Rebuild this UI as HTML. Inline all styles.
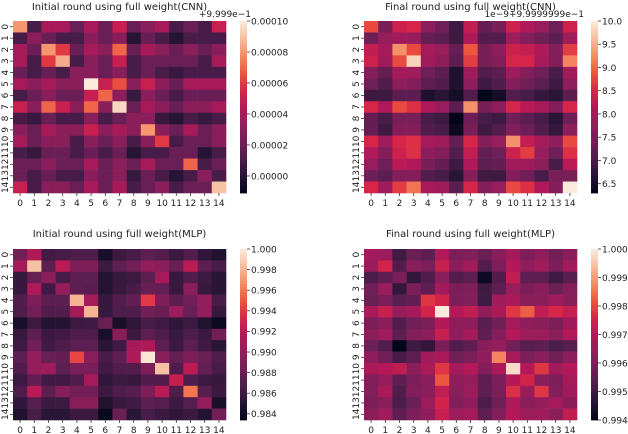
<!DOCTYPE html>
<html><head><meta charset="utf-8">
<style>
html,body{margin:0;padding:0;background:#fff;}
svg{display:block;font-family:"DejaVu Sans","Liberation Sans",sans-serif;}
</style></head>
<body>
<svg id="chart" width="628" height="434" viewBox="0 0 628 434" xmlns="http://www.w3.org/2000/svg"></svg>
<script>
const labels = ["0","1","2","3","4","5","6","7","8","9","10","11","12","13","14"];
const cnnInit = [
[8,1,4,4,2,4,2,5,2,3,4,1,2,1,5],
[1,3,2,1,1,3,2,3,0,2,1,0,1,1,1],
[4,2,8,6,2,4,3,7,2,4,3,2,3,2,3],
[4,1,6,8.5,1,3,2,5,1,2,2,2,2,1,4],
[2,1,2,1,3,3,2,3,1,2,1,0.5,1,1,1],
[4,3,4,3,3,10,5,6.5,3,5,3,2,4,4,4],
[1,2,3,2,2,5,7,3,0.5,3,2,1,2,2,2],
[5,3,7,5,3,7,3,9.5,2,4,3,2,3,3,4],
[1,0.5,2,1,1,3,1,2,3,3,0.5,0,1,0.5,1],
[3,2,4,3,3,5,3,4,3,8,3,2,4,2,3],
[4,2,3,3,1,3,2,3,1,3,6,1,2,2,3],
[1,0.5,2,2,1,2,1,2,0,1,1,2,2,0,1],
[2,2,3,2,2,4,2,3,2,4,2,2,7,1,2],
[2,1,2,1,1,3,2,3,0.5,2,1,0,1,3,1],
[5,1,3,3,2,4,2,4,1,2,3,1,2,2,9]];
const cnnFinal = [
[8.8,7.5,8.4,8.5,7.7,7.4,6.9,8.3,7.3,7.5,8.4,8.1,7.8,7.4,8.4],
[7.4,7.8,7.9,7.8,7.3,7.2,6.9,8.1,7.1,7.1,7.9,7.6,7.4,7.2,7.9],
[8.3,8.0,9.3,8.8,8.0,7.8,7.3,8.9,7.5,7.7,8.4,8.3,8.1,7.6,8.7],
[8.4,7.9,8.8,9.8,7.9,7.7,7.2,8.7,7.5,7.6,8.5,8.5,8.0,7.6,9.2],
[7.6,7.3,8.0,7.9,7.4,7.2,6.6,7.9,7.1,7.2,7.9,7.6,7.4,7.0,7.9],
[7.4,7.1,7.7,7.6,7.2,7.1,6.6,7.7,6.9,7.1,7.6,7.4,7.2,6.9,7.7],
[6.9,6.9,7.2,7.2,6.6,6.7,6.5,7.1,6.3,6.5,7.1,7.0,6.8,6.7,7.2],
[8.5,8.1,8.8,8.6,8.1,7.8,7.2,9.3,7.5,7.7,8.5,8.2,8.0,7.6,8.5],
[7.3,7.0,7.5,7.5,7.0,6.9,6.3,7.4,7.0,6.9,7.4,7.2,7.0,6.7,7.4],
[7.3,6.9,7.6,7.6,7.1,7.0,6.4,7.5,6.9,7.1,7.6,7.4,7.1,6.8,7.7],
[8.5,7.9,8.5,8.6,8.0,7.9,7.3,8.5,7.6,7.8,9.3,8.3,8.0,7.7,8.8],
[8.1,7.6,8.4,8.6,7.7,7.6,7.1,8.3,7.3,7.4,8.4,8.7,7.8,7.4,8.6],
[7.8,7.4,8.2,8.1,7.5,7.3,6.9,8.1,7.2,7.3,7.9,7.9,7.7,7.0,8.2],
[7.4,7.2,7.6,7.6,7.1,7.0,6.7,7.6,6.9,6.9,7.6,7.4,7.0,7.5,7.5],
[8.5,7.9,8.7,9.1,8.0,7.9,7.2,8.5,7.6,7.8,8.8,8.6,8.1,7.6,10.0]];
const mlpInit = [
[.9885,.9915,.9862,.9865,.9868,.9868,.9845,.9860,.9865,.9875,.9870,.9860,.9870,.9855,.9848],
[.9910,.9985,.9875,.9920,.9890,.9890,.9860,.9875,.9885,.9900,.9895,.9880,.9920,.9875,.9865],
[.9858,.9880,.9895,.9865,.9875,.9875,.9850,.9858,.9860,.9875,.9910,.9858,.9870,.9860,.9852],
[.9858,.9915,.9862,.9900,.9875,.9873,.9850,.9858,.9865,.9880,.9878,.9858,.9895,.9858,.9852],
[.9870,.9890,.9875,.9875,.9980,.9910,.9858,.9870,.9878,.9940,.9890,.9875,.9885,.9900,.9865],
[.9868,.9885,.9870,.9870,.9910,.9980,.9858,.9868,.9868,.9885,.9880,.9905,.9880,.9900,.9858],
[.9845,.9860,.9850,.9850,.9860,.9862,.9880,.9845,.9855,.9865,.9862,.9855,.9860,.9848,.9838],
[.9858,.9875,.9860,.9862,.9868,.9868,.9845,.9895,.9860,.9875,.9868,.9858,.9868,.9860,.9885],
[.9862,.9885,.9862,.9868,.9875,.9875,.9852,.9862,.9910,.9915,.9875,.9860,.9875,.9862,.9852],
[.9875,.9900,.9880,.9878,.9945,.9895,.9865,.9875,.9915,.9998,.9895,.9878,.9890,.9880,.9868],
[.9870,.9900,.9905,.9875,.9888,.9888,.9862,.9870,.9870,.9890,.9985,.9868,.9920,.9878,.9865],
[.9860,.9878,.9862,.9862,.9870,.9910,.9855,.9860,.9858,.9870,.9870,.9925,.9868,.9860,.9858],
[.9868,.9920,.9875,.9893,.9885,.9885,.9860,.9868,.9872,.9890,.9920,.9868,.9960,.9872,.9860],
[.9855,.9872,.9860,.9860,.9895,.9895,.9848,.9858,.9862,.9875,.9872,.9860,.9872,.9900,.9845],
[.9848,.9865,.9852,.9852,.9860,.9860,.9838,.9880,.9852,.9865,.9860,.9855,.9860,.9850,.9885]];
const mlpFinal = [
[.9967,.9965,.9950,.9957,.9955,.9970,.9960,.9961,.9957,.9962,.9967,.9960,.9963,.9958,.9962],
[.9965,.9975,.9953,.9962,.9960,.9973,.9962,.9966,.9953,.9960,.9970,.9963,.9966,.9960,.9966],
[.9952,.9955,.9960,.9948,.9953,.9962,.9953,.9955,.9942,.9953,.9972,.9955,.9955,.9950,.9954],
[.9958,.9965,.9948,.9960,.9955,.9967,.9960,.9961,.9950,.9955,.9965,.9960,.9962,.9957,.9961],
[.9957,.9960,.9954,.9956,.9978,.9975,.9960,.9961,.9950,.9966,.9968,.9962,.9962,.9966,.9962],
[.9968,.9973,.9964,.9967,.9975,1.0,.9970,.9972,.9963,.9968,.9978,.9983,.9972,.9976,.9973],
[.9960,.9962,.9953,.9958,.9960,.9970,.9963,.9963,.9954,.9958,.9967,.9963,.9962,.9960,.9966],
[.9962,.9966,.9955,.9961,.9962,.9973,.9963,.9967,.9955,.9961,.9970,.9965,.9965,.9962,.9969],
[.9957,.9953,.9940,.9950,.9948,.9960,.9953,.9955,.9962,.9964,.9958,.9954,.9955,.9952,.9954],
[.9963,.9958,.9951,.9955,.9966,.9968,.9958,.9960,.9963,.9987,.9967,.9960,.9962,.9958,.9962],
[.9968,.9970,.9972,.9962,.9968,.9978,.9967,.9970,.9961,.9968,.9998,.9970,.9978,.9966,.9970],
[.9961,.9964,.9955,.9960,.9962,.9982,.9963,.9964,.9955,.9960,.9970,.9975,.9962,.9960,.9967],
[.9961,.9968,.9953,.9961,.9962,.9972,.9962,.9965,.9955,.9960,.9977,.9965,.9978,.9961,.9966],
[.9960,.9962,.9952,.9957,.9965,.9975,.9961,.9963,.9952,.9958,.9969,.9962,.9964,.9967,.9962],
[.9962,.9966,.9955,.9960,.9963,.9973,.9965,.9967,.9955,.9961,.9970,.9965,.9966,.9962,.9972]];
const cnnInitTicks = [0,2,4,6,8,10];
const cnnInitTickLabels = ["0.00000","0.00002","0.00004","0.00006","0.00008","0.00010"];
const cnnFinalTicks = [6.5,7,7.5,8,8.5,9,9.5,10];
const cnnFinalTickLabels = ["6.5","7.0","7.5","8.0","8.5","9.0","9.5","10.0"];
const mlpInitTicks = [.984,.986,.988,.990,.992,.994,.996,.998,1.0];
const mlpInitTickLabels = ["0.984","0.986","0.988","0.990","0.992","0.994","0.996","0.998","1.000"];
const mlpFinalTicks = [.994,.995,.996,.997,.998,.999,1.0];
const mlpFinalTickLabels = ["0.994","0.995","0.996","0.997","0.998","0.999","1.000"];

const NS="http://www.w3.org/2000/svg";
const svg=document.getElementById('chart');
const stops=[[3,5,26],[38,20,52],[76,29,75],[112,31,87],[149,29,92],[180,24,88],[216,38,72],[237,85,62],[245,140,100],[246,190,158],[250,235,221]];
function rocket(t){t=Math.max(0,Math.min(1,t));const p=t*10,i=Math.min(9,Math.floor(p)),f=p-i;const a=stops[i],b=stops[i+1];
return `rgb(${Math.round(a[0]+(b[0]-a[0])*f)},${Math.round(a[1]+(b[1]-a[1])*f)},${Math.round(a[2]+(b[2]-a[2])*f)})`;}
function mk(tag,attrs,parent){const e=document.createElementNS(NS,tag);for(const k in attrs)e.setAttribute(k,attrs[k]);(parent||svg).appendChild(e);return e;}

function panel(cfg){
  const g=mk('g',{});
  
  
  const cw=(cfg.x1-cfg.x0)/15,ch=(cfg.y1-cfg.y0)/15;
  const xs=i=>cfg.x0+i*cw, ys=j=>cfg.y0+j*ch;
  const norm=v=>(v-cfg.vmin)/(cfg.vmax-cfg.vmin);
  cfg.data.forEach((row,j)=>row.forEach((v,i)=>{
    const r=mk('rect',{x:xs(i),y:ys(j),width:cw+0.3,height:ch+0.3,fill:rocket(norm(v))},g);
    
    
  }));
  const t=mk('text',{x:(cfg.x0+cfg.x1)/2,y:cfg.titleY,'text-anchor':'middle','font-size':10,fill:'#222'},g);
  t.textContent=cfg.title;
  
  
  labels.forEach((l,i)=>{
    const cx=xs(i)+cw/2;
    mk('line',{x1:cx,x2:cx,y1:cfg.y1,y2:cfg.y1+3,stroke:'#333','stroke-width':0.8},g);
    const tx=mk('text',{x:cx,y:cfg.y1+13,'text-anchor':'middle','font-size':9,fill:'#222'},g);
    tx.textContent=l;
    
    
    const cy=ys(i)+ch/2;
    mk('line',{x1:cfg.x0-3,x2:cfg.x0,y1:cy,y2:cy,stroke:'#333','stroke-width':0.8},g);
    const ty=mk('text',{x:0,y:0,'text-anchor':'middle','font-size':9,fill:'#222',transform:`translate(${cfg.x0-5},${cy}) rotate(-90)`},g);
    ty.textContent=l;
    
    
  });
  const cb=mk('g',{},g);
  
  
  const n=60,hh=(cfg.y1-cfg.y0)/n;
  for(let k=0;k<n;k++){mk('rect',{x:cfg.cbx,y:cfg.y1-(k+1)*hh,width:7,height:hh+0.4,fill:rocket((k+0.5)/n)},cb);}
  cfg.ticks.forEach((tv,k)=>{
    const y=cfg.y1-norm(tv)*(cfg.y1-cfg.y0);
    mk('line',{x1:cfg.cbx+7,x2:cfg.cbx+10,y1:y,y2:y,stroke:'#333','stroke-width':0.8},cb);
    const tl=mk('text',{x:cfg.cbx+11,y:y+3.3,'font-size':9,fill:'#222'},cb);
    tl.textContent=cfg.tickLabels[k];
    
    
  });
  if(cfg.offset){const o=mk('text',{x:cfg.offX,y:cfg.y0-4,'text-anchor':'end','font-size':9,fill:'#222'},g);
    o.textContent=cfg.offset;
    
    }
}
panel({name:'cnn-initial-heatmap',data:cnnInit,x0:13,x1:226,y0:21,y1:193,vmin:-1.1,vmax:10,cbx:240,ticks:cnnInitTicks,tickLabels:cnnInitTickLabels,title:'Initial round using full weight(CNN)',titleY:10,offset:'+9.999e\u22121',offX:251});
panel({name:'cnn-final-heatmap',data:cnnFinal,x0:364,x1:577,y0:21,y1:193,vmin:6.3,vmax:10,cbx:591,ticks:cnnFinalTicks,tickLabels:cnnFinalTickLabels,title:'Final round using full weight(CNN)',titleY:10,offset:'1e\u22129+9.9999999e\u22121',offX:584});
panel({name:'mlp-initial-heatmap',data:mlpInit,x0:13,x1:226,y0:249,y1:420,vmin:.9834,vmax:1.0,cbx:240,ticks:mlpInitTicks,tickLabels:mlpInitTickLabels,title:'Initial round using full weight(MLP)',titleY:237});
panel({name:'mlp-final-heatmap',data:mlpFinal,x0:364,x1:577,y0:249,y1:420,vmin:.994,vmax:1.0,cbx:591,ticks:mlpFinalTicks,tickLabels:mlpFinalTickLabels,title:'Final round using full weight(MLP)',titleY:237});
</script>
</body></html>
